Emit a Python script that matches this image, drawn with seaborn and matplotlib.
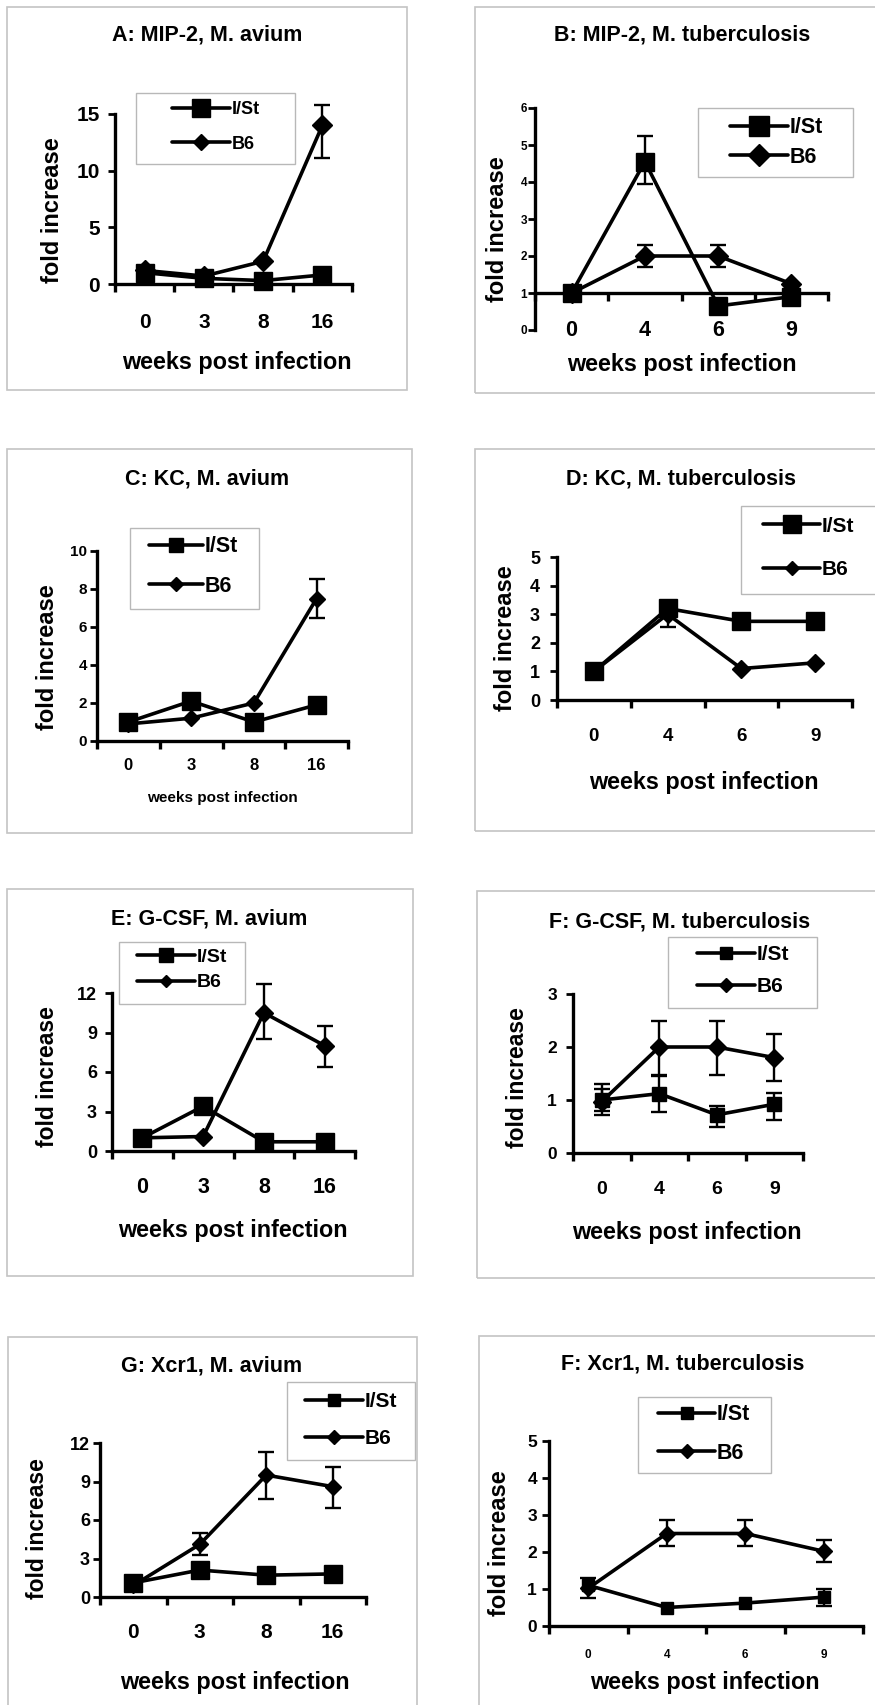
import numpy as np
import pandas as pd
import matplotlib
matplotlib.use("Agg")
import matplotlib.pyplot as plt
from matplotlib.lines import Line2D
from matplotlib.patches import Rectangle
import seaborn as sns

sns.set_style("ticks", {"axes.edgecolor": "black", "xtick.color": "black",
                        "ytick.color": "black", "text.color": "black",
                        "axes.labelcolor": "black"})
plt.rcParams["font.family"] = ["Liberation Sans", "DejaVu Sans"]
plt.rcParams["font.weight"] = "bold"
plt.rcParams["axes.labelweight"] = "bold"
plt.rcParams["axes.titleweight"] = "bold"

nan = np.nan
weeks_avium = ["0", "3", "8", "16"]
weeks_tb = ["0", "4", "6", "9"]

# A: MIP-2, M. avium
a_ist = [1.0, 0.5, 0.3, 0.8]
a_b6 = [1.2, 0.7, 2.0, 14.0]
a_b6_lo = [nan, nan, nan, 11.1]
a_b6_hi = [nan, nan, nan, 15.8]

# B: MIP-2, M. tuberculosis
b_ist = [1.0, 4.55, 0.65, 0.9]
b_ist_lo = [nan, 3.95, nan, nan]
b_ist_hi = [nan, 5.25, nan, nan]
b_b6 = [1.0, 2.0, 2.0, 1.25]
b_b6_lo = [nan, 1.7, 1.7, nan]
b_b6_hi = [nan, 2.3, 2.3, nan]

# C: KC, M. avium
c_ist = [1.0, 2.1, 1.0, 1.9]
c_b6 = [0.9, 1.2, 2.0, 7.5]
c_b6_lo = [nan, nan, nan, 6.45]
c_b6_hi = [nan, nan, nan, 8.55]

# D: KC, M. tuberculosis
d_ist = [1.0, 3.2, 2.75, 2.75]
d_b6 = [1.0, 3.0, 1.1, 1.3]
d_b6_lo = [nan, 2.55, nan, nan]
d_b6_hi = [nan, 3.3, nan, nan]

# E: G-CSF, M. avium
e_ist = [1.0, 3.4, 0.7, 0.7]
e_b6 = [1.0, 1.1, 10.5, 8.0]
e_b6_lo = [nan, nan, 8.5, 6.4]
e_b6_hi = [nan, nan, 12.7, 9.5]

# F: G-CSF, M. tuberculosis
f_ist = [1.0, 1.12, 0.72, 0.92]
f_ist_lo = [0.8, 0.78, 0.5, 0.62]
f_ist_hi = [1.2, 1.45, 0.88, 1.14]
f_b6 = [0.97, 2.0, 2.0, 1.8]
f_b6_lo = [0.72, 1.47, 1.48, 1.35]
f_b6_hi = [1.3, 2.5, 2.5, 2.25]

# G: Xcr1, M. avium
g_ist = [1.1, 2.1, 1.7, 1.8]
g_b6 = [0.9, 4.1, 9.5, 8.6]
g_b6_lo = [nan, 3.3, 7.6, 6.9]
g_b6_hi = [nan, 5.0, 11.3, 10.1]

# F (2nd): Xcr1, M. tuberculosis
h_ist = [1.1, 0.5, 0.62, 0.78]
h_ist_lo = [nan, nan, nan, 0.55]
h_ist_hi = [nan, nan, nan, 1.0]
h_b6 = [1.02, 2.5, 2.5, 2.02]
h_b6_lo = [0.75, 2.15, 2.15, 1.74]
h_b6_hi = [1.3, 2.87, 2.87, 2.32]

panels = [
    dict(title="A: MIP-2, M. avium", weeks=weeks_avium,
         ist=(a_ist, None, None), b6=(a_b6, a_b6_lo, a_b6_hi),
         ylim=(0, 15), yticks=[0, 5, 10, 15], spine_at=0,
         box=(7, 7, 407, 390), axpx=(115, 352, 284, 114),
         title_xy=(207, 35), xlab_xy=(237, 363), ylab_xy=(52, 210), xtick_y=321, ygap=15,
         fs=(15.5, 16.8, 17, 15, 15, 13), mk=(20, 18),
         leg=dict(box=(136, 93, 295, 164), x=172, rows=(110, 144), hl=58, mk=(20, 15))),
    dict(title="B: MIP-2, M. tuberculosis", weeks=weeks_tb,
         ist=(b_ist, b_ist_lo, b_ist_hi), b6=(b_b6, b_b6_lo, b_b6_hi),
         ylim=(0, 6), yticks=[0, 1, 2, 3, 4, 5, 6], spine_at=1,
         box=(475, 7, 880, 393), axpx=(535, 828, 330, 108),
         title_xy=(682, 35), xlab_xy=(682, 365), ylab_xy=(497, 229), xtick_y=328, ygap=8,
         fs=(15.5, 16.8, 17, 15.5, 8.5, 15.5), mk=(20, 18),
         leg=dict(box=(698, 108, 853, 177), x=730, rows=(128, 157), hl=58, mk=(22, 20))),
    dict(title="C: KC, M. avium", weeks=weeks_avium,
         ist=(c_ist, None, None), b6=(c_b6, c_b6_lo, c_b6_hi),
         ylim=(0, 10), yticks=[0, 2, 4, 6, 8, 10], spine_at=0,
         box=(7, 449, 412, 833), axpx=(97, 348, 741, 551),
         title_xy=(207, 479), xlab_xy=(222, 798), ylab_xy=(48, 657), xtick_y=764, ygap=10,
         fs=(15.5, 11, 17, 12, 11, 15.5), mk=(20, 16),
         leg=dict(box=(130, 528, 259, 609), x=149, rows=(547, 586), hl=54, mk=(15, 13))),
    dict(title="D: KC, M. tuberculosis", weeks=weeks_tb,
         ist=(d_ist, None, None), b6=(d_b6, d_b6_lo, d_b6_hi),
         ylim=(0, 5), yticks=[0, 1, 2, 3, 4, 5], spine_at=0,
         box=(475, 449, 880, 831), axpx=(557, 852, 700, 557),
         title_xy=(681, 479), xlab_xy=(704, 783), ylab_xy=(505, 638), xtick_y=735, ygap=17,
         fs=(15.5, 16.8, 17, 13.5, 13, 15), mk=(20, 17),
         leg=dict(box=(741, 506, 880, 594), x=763, rows=(526, 570), hl=57, mk=(20, 13))),
    dict(title="E: G-CSF, M. avium", weeks=weeks_avium,
         ist=(e_ist, None, None), b6=(e_b6, e_b6_lo, e_b6_hi),
         ylim=(0, 12), yticks=[0, 3, 6, 9, 12], spine_at=0,
         box=(7, 889, 413, 1276), axpx=(112, 355, 1151, 993),
         title_xy=(209, 919), xlab_xy=(233, 1230), ylab_xy=(47, 1077), xtick_y=1185, ygap=15,
         fs=(15.5, 16.8, 16.5, 15.5, 13, 14), mk=(20, 17),
         leg=dict(box=(119, 942, 245, 1004), x=137, rows=(957, 983), hl=58, mk=(15, 12))),
    dict(title="F: G-CSF, M. tuberculosis", weeks=weeks_tb,
         ist=(f_ist, f_ist_lo, f_ist_hi), b6=(f_b6, f_b6_lo, f_b6_hi),
         ylim=(0, 3), yticks=[0, 1, 2, 3], spine_at=0,
         box=(477, 891, 880, 1278), axpx=(573, 803, 1153, 994),
         title_xy=(680, 922), xlab_xy=(687, 1233), ylab_xy=(518, 1078), xtick_y=1188, ygap=16,
         fs=(15.5, 16.8, 16.5, 14, 12.5, 15), mk=(16, 17),
         leg=dict(box=(668, 937, 817, 1008), x=697, rows=(954, 987), hl=58, mk=(14, 13))),
    dict(title="G: Xcr1, M. avium", weeks=weeks_avium,
         ist=(g_ist, None, None), b6=(g_b6, g_b6_lo, g_b6_hi),
         ylim=(0, 12), yticks=[0, 3, 6, 9, 12], spine_at=0,
         box=(8, 1337, 417, 1720), axpx=(100, 366, 1597, 1443),
         title_xy=(212, 1366), xlab_xy=(235, 1682), ylab_xy=(38, 1529), xtick_y=1630, ygap=10,
         fs=(15.5, 16.8, 16.5, 15, 13, 15), mk=(19, 16),
         leg=dict(box=(287, 1382, 415, 1460), x=305, rows=(1401, 1439), hl=58, mk=(13, 13))),
    dict(title="F: Xcr1, M. tuberculosis", weeks=weeks_tb,
         ist=(h_ist, h_ist_lo, h_ist_hi), b6=(h_b6, h_b6_lo, h_b6_hi),
         ylim=(0, 5), yticks=[0, 1, 2, 3, 4, 5], spine_at=0,
         box=(479, 1336, 880, 1720), axpx=(549, 863, 1626, 1441),
         title_xy=(683, 1364), xlab_xy=(705, 1683), ylab_xy=(499, 1543), xtick_y=1653, ygap=12,
         fs=(15.5, 16.8, 17, 8.5, 12.5, 15.5), mk=(14, 15),
         leg=dict(box=(638, 1397, 771, 1473), x=658, rows=(1415, 1453), hl=57, mk=(13, 13))),
]

W, H = 875, 1705
PT = 100 / 72.0  # pixels per point at dpi 100
MEW = 1.0
LW = 2.6

fig = plt.figure(figsize=(W / 100, H / 100), dpi=100)


def fig_rect(x0, y0, x1, y1, **kw):
    fig.add_artist(Rectangle((x0 / W, 1 - y1 / H), (x1 - x0) / W, (y1 - y0) / H,
                             transform=fig.transFigure, fill=False, **kw))


def sq_size(px):
    return (px - MEW * PT) / PT


def di_size(px):
    # diamonds read a bit small, so scale them up
    return 1.2 * (px / 1.414 - MEW * PT) / PT


for p in panels:
    x0, x1, yb, yt = p["axpx"]
    ax = fig.add_axes([x0 / W, 1 - yb / H, (x1 - x0) / W, (yb - yt) / H])
    f_title, f_xlab, f_ylab, f_xt, f_yt, f_leg = p["fs"]

    def to_ax(px, py):
        return (px - x0) / (x1 - x0), (yb - py) / (yb - yt)

    series = [(p["ist"], "s", sq_size(p["mk"][0])), (p["b6"], "D", di_size(p["mk"][1]))]
    for (vals, lo, hi), marker, ms in series:
        df = pd.DataFrame({"week": p["weeks"], "fold": vals})
        sns.pointplot(data=df, x="week", y="fold", order=p["weeks"], color="black",
                      marker=marker, markersize=ms, markeredgewidth=MEW, linewidth=LW,
                      errorbar=None, clip_on=False, ax=ax)
        if lo is not None:
            v = np.array(vals)
            ax.errorbar(np.arange(len(v)), v, yerr=[v - np.array(lo), np.array(hi) - v],
                        fmt="none", ecolor="black", elinewidth=1.7, capsize=5.5,
                        capthick=1.7, zorder=1.5, clip_on=False)

    n = len(p["weeks"])
    ax.set_xlim(-0.5, n - 0.5)
    ax.set_ylim(*p["ylim"])
    sns.despine(ax=ax)
    for s in ("left", "bottom"):
        ax.spines[s].set_linewidth(2.4)
    if p["spine_at"] != p["ylim"][0]:
        ax.spines["bottom"].set_position(("data", p["spine_at"]))

    ax.set_xticks(np.arange(n))
    ax.set_xticklabels(p["weeks"])
    ax.set_xticks(np.arange(n + 1) - 0.5, minor=True)
    lo_y, hi_y = p["ylim"]
    spine_px = yb - (p["spine_at"] - lo_y) / (hi_y - lo_y) * (yb - yt)
    xpad = (p["xtick_y"] - spine_px) / PT - 0.36 * f_xt
    ax.tick_params(axis="x", which="major", length=0, pad=xpad, labelsize=f_xt)
    ax.tick_params(axis="x", which="minor", length=6, width=2.4, direction="out")
    ax.set_yticks(p["yticks"])
    ax.tick_params(axis="y", length=5, width=2, direction="out",
                   pad=max(p["ygap"] - 7, 1) / PT, labelsize=f_yt)

    tx, ty = to_ax(*p["title_xy"])
    ax.set_title(p["title"], x=tx, y=ty, pad=0, va="center", fontsize=f_title)

    ax.set_xlabel("weeks post infection", fontsize=f_xlab)
    ax.xaxis.set_label_coords(*to_ax(*p["xlab_xy"]))
    ax.xaxis.label.set_va("center")
    ax.set_ylabel("fold increase", fontsize=f_ylab)
    ax.yaxis.set_label_coords(*to_ax(*p["ylab_xy"]))
    ax.yaxis.label.set_va("center")

    lg = p["leg"]
    fs_px = f_leg * PT
    r1, r2 = lg["rows"]
    handles = [
        Line2D([], [], color="black", lw=LW, marker="s", ms=sq_size(lg["mk"][0]), mew=MEW),
        Line2D([], [], color="black", lw=LW, marker="D", ms=di_size(lg["mk"][1]), mew=MEW),
    ]
    ax.legend(handles, ["I/St", "B6"], loc="center left",
              bbox_to_anchor=(lg["x"] / W, 1 - (r1 + r2) / 2 / H),
              bbox_transform=fig.transFigure, frameon=False, borderpad=0,
              borderaxespad=0, handlelength=lg["hl"] / fs_px, handletextpad=0.08,
              labelspacing=max((r2 - r1) / fs_px - 0.94, 0.0),
              prop={"size": f_leg, "weight": "bold"})
    fig_rect(*lg["box"], edgecolor="#b8b8b8", lw=1.0)
    fig_rect(*p["box"], edgecolor="#c4c4c4", lw=1.2)

fig.savefig("out.png", dpi=100, facecolor="white")
